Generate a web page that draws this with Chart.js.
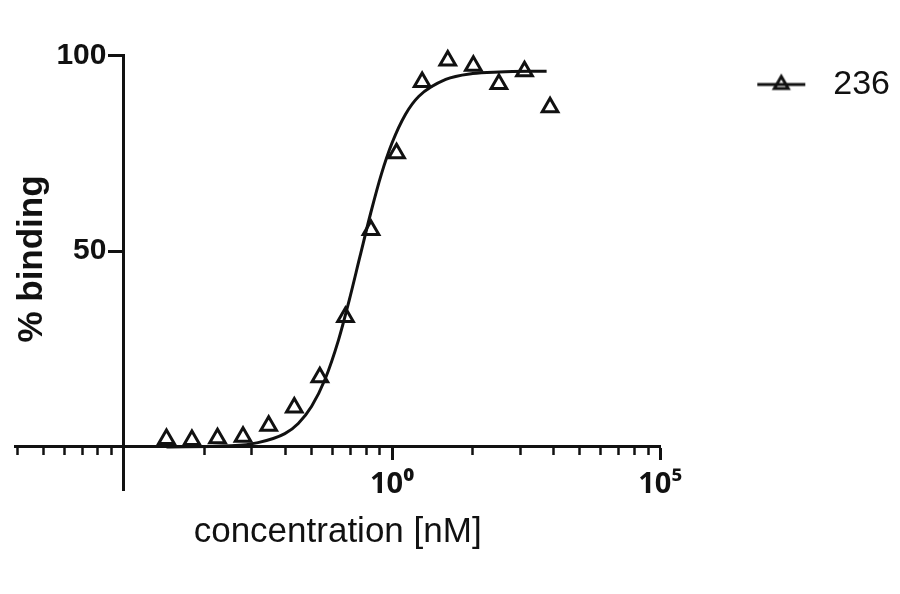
<!DOCTYPE html>
<html>
<head>
<meta charset="utf-8">
<title>% binding vs concentration</title>
<script src="https://cdn.jsdelivr.net/npm/chart.js@4.4.1/dist/chart.umd.min.js"></script>
<style>
  html, body { margin: 0; padding: 0; background: #fff; }
  #wrap { width: 900px; height: 594px; }
</style>
</head>
<body>
<div id="wrap"><canvas id="bindingChart" width="900" height="594"></canvas></div>
<script>
// measured points, 3-fold dilution series (nM)
const concentrations = [6.2e-5, 1.85e-4, 5.55e-4, 1.66e-3, 4.99e-3, 0.0150, 0.0449, 0.135,
                        0.404, 1.21, 3.63, 10.9, 32.7, 97.9, 294, 881];
const binding = [2.0, 1.8, 2.2, 2.6, 5.4, 10.1, 17.8, 33.2, 55.4, 75.0, 93.2, 98.7, 97.4, 92.7, 96.0, 86.8];

// fitted curve
const fitConc = [6.2e-5, 1e-3, 3.16e-3, 0.01, 0.0178, 0.0316, 0.0562, 0.1, 0.158, 0.251,
                 0.398, 0.631, 1, 1.78, 3.16, 10, 31.6, 100, 760];
const fitBinding = [0.0, 0.3, 1.1, 3.4, 6.0, 10.4, 17.3, 27.3, 37.4, 48.6,
                    59.7, 69.7, 77.7, 85.0, 89.6, 93.9, 95.4, 95.8, 96.0];

const seriesName = "236";
const xMajorTicks = [1, 1e5];
const xMajorLabels = ["10\u2070", "10\u2075"];
const xMinorBases = [1e-10, 1e-5, 1];
const xMinorSteps = [32, 243, 1024, 3125, 7776, 16807, 32768, 59049];
const yTicks = [50, 100];

const xMin = 9.3e-8;
const xMax = 1e5;
const black = "#111";
const fontFamily = "'Liberation Sans', 'Noto Sans', Arial, sans-serif";
const powerFont = "'Noto Sans', 'Liberation Sans', sans-serif";

// legend glyph: line with an open triangle on it
const glyph = document.createElement("canvas");
glyph.width = 124;
glyph.height = 28;
(function () {
    const g = glyph.getContext("2d");
    g.strokeStyle = black;
    g.lineWidth = 3;
    g.beginPath();
    g.moveTo(75, 14);
    g.lineTo(123, 14);
    g.stroke();
    const r = 8;
    const cx = 99, cy = 14;
    g.lineWidth = 3;
    g.beginPath();
    g.moveTo(cx, cy - r);
    g.lineTo(cx + r * Math.sin(Math.PI / 3), cy + r / 2);
    g.lineTo(cx - r * Math.sin(Math.PI / 3), cy + r / 2);
    g.closePath();
    g.stroke();
})();

const minorTicks = [];
xMinorBases.forEach((b) => {
    xMinorSteps.forEach((s) => {
        const v = b * s;
        if (v >= xMin && v <= xMax) minorTicks.push({ value: v });
    });
});

const yTitle = {
    id: "yTitle",
    afterDraw(chart) {
        const ctx = chart.ctx;
        ctx.save();
        ctx.translate(42, 259);
        ctx.rotate(-Math.PI / 2);
        ctx.font = "bold 35px " + fontFamily;
        ctx.fillStyle = black;
        ctx.textAlign = "center";
        ctx.textBaseline = "alphabetic";
        ctx.fillText("% binding", 0, 0);
        ctx.restore();
    },
};

const chart = new Chart(document.getElementById("bindingChart"), {
    type: "scatter",
    data: {
        datasets: [
            {
                label: seriesName,
                data: concentrations.map((c, i) => ({ x: c, y: binding[i] })),
                showLine: false,
                clip: false,
                pointStyle: "triangle",
                pointRadius: 9,
                pointHoverRadius: 9,
                pointBorderWidth: 3,
                pointBorderColor: black,
                pointBackgroundColor: "rgba(255,255,255,0)",
            },
            {
                label: "fit",
                data: fitConc.map((c, i) => ({ x: c, y: fitBinding[i] })),
                showLine: true,
                clip: false,
                borderColor: black,
                borderWidth: 3,
                pointRadius: 0,
                cubicInterpolationMode: "monotone",
                tension: 0.4,
            },
        ],
    },
    options: {
        responsive: false,
        animation: false,
        layout: { padding: { left: 15, top: 55.5, bottom: 104, right: 0 } },
        plugins: {
            tooltip: { enabled: false },
            legend: {
                position: "right",
                align: "start",
                maxWidth: 240,
                labels: {
                    usePointStyle: true,
                    pointStyleWidth: 144,
                    padding: 12,
                    color: black,
                    font: { family: fontFamily, size: 34 },
                    generateLabels: (c) => [{
                        text: seriesName,
                        pointStyle: glyph,
                        fillStyle: "rgba(0,0,0,0)",
                        strokeStyle: "rgba(0,0,0,0)",
                        lineWidth: 0,
                        hidden: false,
                        datasetIndex: 0,
                        fontColor: black,
                    }],
                },
            },
        },
        scales: {
            x: {
                type: "logarithmic",
                min: xMin,
                max: xMax,
                position: { y: 0 },
                afterBuildTicks: (s) => { s.ticks = xMajorTicks.map((v) => ({ value: v })); },
                ticks: {
                    autoSkip: false,
                    maxRotation: 0,
                    padding: 8,
                    color: black,
                    font: { family: powerFont, size: 29, weight: "bold" },
                    callback: (v) => {
                        const i = xMajorTicks.indexOf(v);
                        return i >= 0 ? xMajorLabels[i] : "";
                    },
                },
                grid: { drawOnChartArea: false, tickLength: 12, tickWidth: 3, tickColor: black },
                border: { color: black, width: 3 },
                title: {
                    display: true,
                    text: "concentration [nM]",
                    color: black,
                    font: { family: fontFamily, size: 35 },
                    padding: { top: 2, bottom: 0 },
                },
            },
            xMinor: {
                type: "logarithmic",
                axis: "x",
                min: xMin,
                max: xMax,
                position: { y: 0 },
                afterBuildTicks: (s) => { s.ticks = minorTicks.slice(); },
                ticks: { display: false },
                grid: { drawOnChartArea: false, tickLength: 8, tickWidth: 2.5, tickColor: black },
                border: { display: false },
            },
            y: {
                type: "linear",
                min: -11,
                max: 100,
                position: { x: 1e-5 },
                afterBuildTicks: (s) => { s.ticks = yTicks.map((v) => ({ value: v })); },
                ticks: {
                    color: black,
                    font: { family: fontFamily, size: 30, weight: "bold" },
                    // labels sit right on the axis when it is placed by value, so pad them
                    callback: (v) => v + "\u2002\u200A",
                },
                grid: { drawOnChartArea: false, tickLength: 14, tickWidth: 3, tickColor: black },
                border: { color: black, width: 3 },
            },
        },
    },
    plugins: [yTitle],
});
</script>
</body>
</html>
